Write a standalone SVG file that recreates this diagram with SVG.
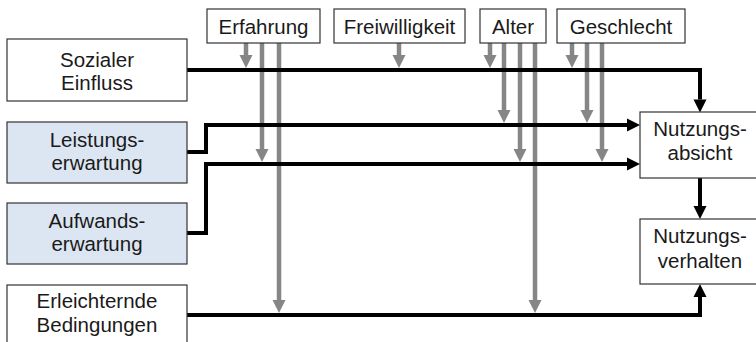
<svg xmlns="http://www.w3.org/2000/svg" width="756" height="342" viewBox="0 0 756 342">
<style>
.box{fill:#ffffff;stroke:#333333;stroke-width:1.2}
.blue{fill:#dce6f2}
.t{font-family:"Liberation Sans",Arial,sans-serif;font-size:20.5px;fill:#1a1a1a;text-anchor:middle}
.blk{fill:none;stroke:#000000;stroke-width:4;stroke-linejoin:miter}
.gry{fill:none;stroke:#868686;stroke-width:4.5}
</style>
<defs>
<marker id="ab" markerUnits="userSpaceOnUse" markerWidth="13" markerHeight="13" refX="0" refY="6.5" orient="auto" overflow="visible">
<path d="M0,0 L13,6.5 L0,13 z" fill="#000000"/>
</marker>
<marker id="ag" markerUnits="userSpaceOnUse" markerWidth="13" markerHeight="13" refX="0" refY="6.5" orient="auto" overflow="visible">
<path d="M0,0 L13,6.5 L0,13 z" fill="#868686"/>
</marker>
</defs>
<g id="connectors">
<g id="moderators">
<path class="gry" d="M246 43 V55" marker-end="url(#ag)"/>
<path class="gry" d="M262 43 V149" marker-end="url(#ag)"/>
<path class="gry" d="M279 43 V300" marker-end="url(#ag)"/>
<path class="gry" d="M399 43 V55" marker-end="url(#ag)"/>
<path class="gry" d="M490 43 V55" marker-end="url(#ag)"/>
<path class="gry" d="M504 43 V110" marker-end="url(#ag)"/>
<path class="gry" d="M520 43 V149" marker-end="url(#ag)"/>
<path class="gry" d="M535 43 V300" marker-end="url(#ag)"/>
<path class="gry" d="M572 43 V55" marker-end="url(#ag)"/>
<path class="gry" d="M587 43 V110" marker-end="url(#ag)"/>
<path class="gry" d="M602 43 V149" marker-end="url(#ag)"/>
</g>
<g id="paths">
<path class="blk" d="M187 70 H700 V99.5" marker-end="url(#ab)"/>
<path class="blk" d="M187 152 H206 V125 H627" marker-end="url(#ab)"/>
<path class="blk" d="M187 233 H206 V164 H627" marker-end="url(#ab)"/>
<path class="blk" d="M700 178 V206" marker-end="url(#ab)"/>
<path class="blk" d="M187 315 H700 V297" marker-end="url(#ab)"/>
</g>
</g>
<g id="erfahrung"><rect class="box" x="207" y="9" width="113" height="34"/><text class="t" x="263.5" y="34">Erfahrung</text></g>
<g id="freiwilligkeit"><rect class="box" x="334" y="9" width="131" height="34"/><text class="t" x="399.5" y="34">Freiwilligkeit</text></g>
<g id="alter"><rect class="box" x="480" y="9" width="66" height="34"/><text class="t" x="513" y="34">Alter</text></g>
<g id="geschlecht"><rect class="box" x="557" y="9" width="128" height="34"/><text class="t" x="621" y="34">Geschlecht</text></g>
<g id="sozialer-einfluss"><rect class="box" x="7" y="39" width="180" height="62"/><text class="t" x="97" y="67">Sozialer</text><text class="t" x="97" y="89.5">Einfluss</text></g>
<g id="leistungserwartung"><rect class="box blue" x="7" y="122" width="180" height="61"/><text class="t" x="97" y="147">Leistungs-</text><text class="t" x="97" y="170">erwartung</text></g>
<g id="aufwandserwartung"><rect class="box blue" x="7" y="203" width="180" height="61"/><text class="t" x="97" y="228">Aufwands-</text><text class="t" x="97" y="251">erwartung</text></g>
<g id="erleichternde-bedingungen"><rect class="box" x="7" y="285" width="180" height="62"/><text class="t" x="97" y="308">Erleichternde</text><text class="t" x="97" y="332">Bedingungen</text></g>
<g id="nutzungsabsicht"><rect class="box" x="640" y="112" width="120" height="66"/><text class="t" x="700" y="136">Nutzungs-</text><text class="t" x="700" y="160">absicht</text></g>
<g id="nutzungsverhalten"><rect class="box" x="640" y="219" width="120" height="65"/><text class="t" x="700" y="243">Nutzungs-</text><text class="t" x="700" y="268">verhalten</text></g>
</svg>
